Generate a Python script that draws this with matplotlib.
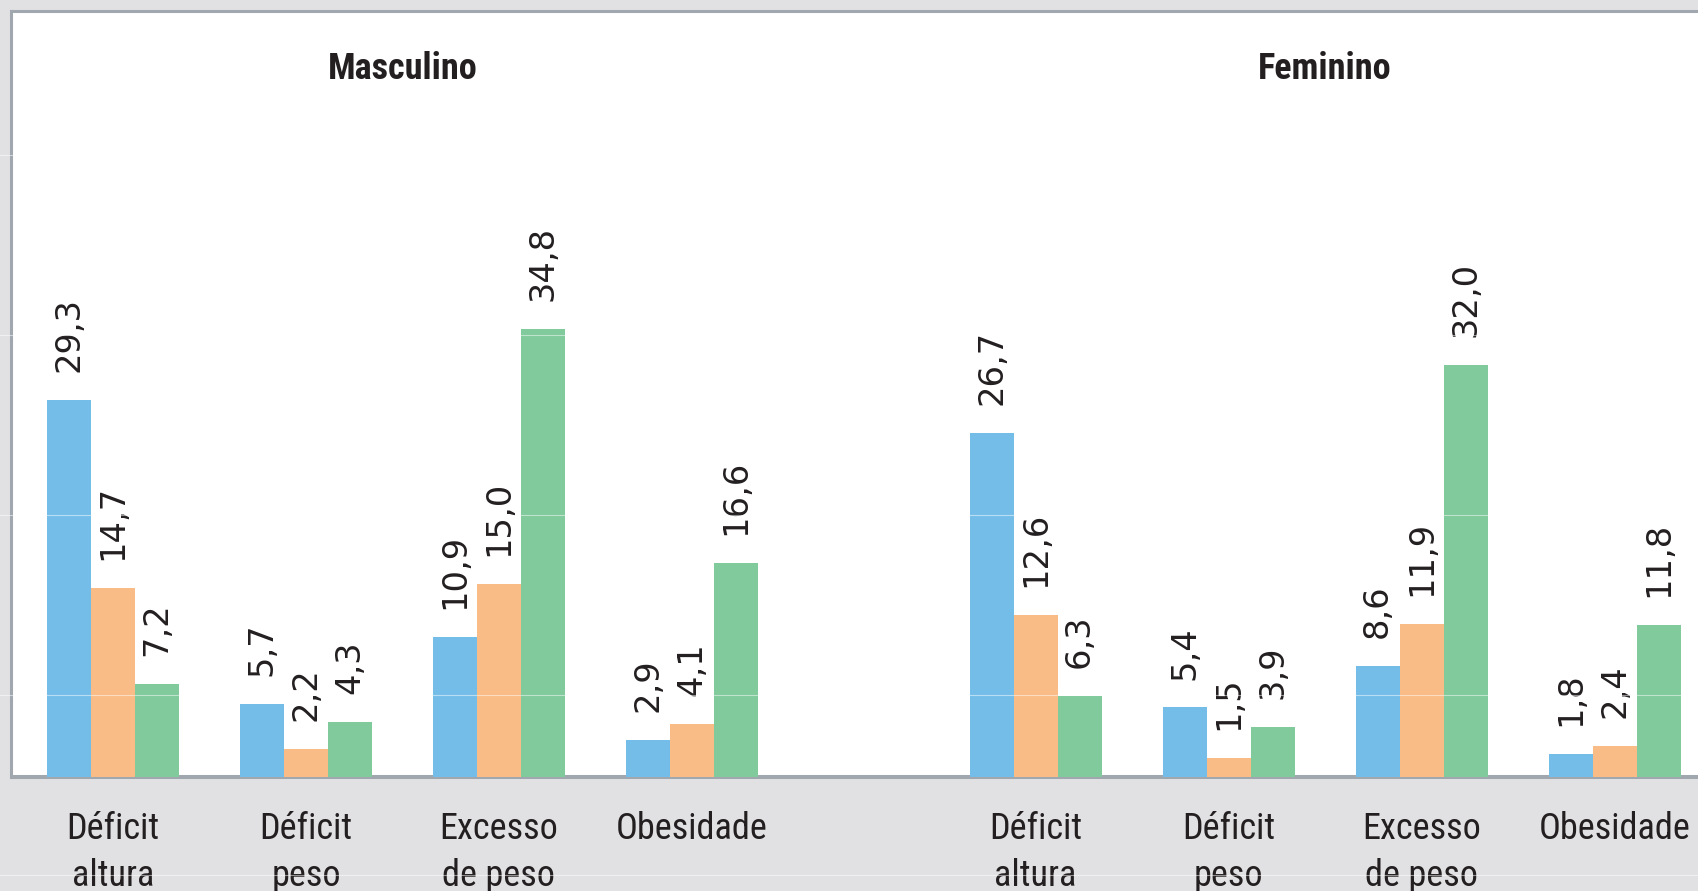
import matplotlib
matplotlib.use("Agg")
import matplotlib.pyplot as plt
from matplotlib.lines import Line2D
import matplotlib.transforms as mtransforms
import numpy as np

# ---- data ----
groups = ["Masculino", "Feminino"]
categories = ["Déficit\naltura", "Déficit\npeso", "Excesso\nde peso", "Obesidade"]
masc_blue = [29.3, 5.7, 10.9, 2.9]
masc_orange = [14.7, 2.2, 15.0, 4.1]
masc_green = [7.2, 4.3, 34.8, 16.6]
fem_blue = [26.7, 5.4, 8.6, 1.8]
fem_orange = [12.6, 1.5, 11.9, 2.4]
fem_green = [6.3, 3.9, 32.0, 11.8]

# ---- style ----
BG = "#e1e1e3"
BORDER = "#a0a7af"
TEXT = "#231f20"
C_BLUE = "#74bde9"
C_ORANGE = "#f9bc86"
C_GREEN = "#80ca9b"
NARROW = ["Roboto Condensed", "Archivo Narrow", "Barlow Condensed", "DejaVu Sans"]
REG = ["DejaVu Sans"]

W, H = 1699, 891
fig = plt.figure(figsize=(W / 100, H / 100), dpi=100, facecolor=BG)
renderer = fig.canvas.get_renderer()


def fit_size(text, family, weight, target_px, base=20.0):
    t = fig.text(0, 0, text, fontsize=base, family=family, fontweight=weight)
    bb = t.get_window_extent(renderer=renderer)
    t.remove()
    return base * target_px / bb.width


fs_title = fit_size("Masculino", NARROW, "bold", 150)
fs_cat = fit_size("Obesidade", NARROW, "normal", 152)
fs_val = fit_size("29,3", REG, "normal", 75)

px_left, px_zero, px_top, px_right = 11.5, 777.0, 10.5, 1760.0
ax = fig.add_axes([px_left / W, 1 - px_zero / H, (px_right - px_left) / W, (px_zero - px_top) / H])
ax.set_facecolor("white")
ax_h = px_zero - px_top

unit = 193.0        # px per category slot
px_per_val = 12.88  # px per value unit
gap = 0.78
ax.set_xlim(-(113 - px_left) / unit, (px_right - 113) / unit)
ax.set_ylim(0, ax_h / px_per_val)

n = len(categories)
centers_m = np.arange(n, dtype=float)
centers_f = np.arange(n, dtype=float) + n + gap
bw = 0.228


def draw(centers, blue, orange, green):
    for off, vals, col in ((-bw, blue, C_BLUE), (0, orange, C_ORANGE), (bw, green, C_GREEN)):
        bars = ax.bar(centers + off, vals, width=bw, color=col, zorder=3, linewidth=0)
        for b, v in zip(bars, vals):
            ax.annotate(f"{v:.1f}".replace(".", ","),
                        (b.get_x() + b.get_width() / 2, v),
                        xytext=(0, 20), textcoords="offset points",
                        rotation=90, ha="center", va="bottom",
                        fontsize=fs_val, family=REG, color=TEXT, zorder=5)


draw(centers_m, masc_blue, masc_orange, masc_green)
draw(centers_f, fem_blue, fem_orange, fem_green)

# spines
for s in ("left", "top"):
    ax.spines[s].set_color(BORDER)
    ax.spines[s].set_linewidth(2.2)
ax.spines["bottom"].set_color(BORDER)
ax.spines["bottom"].set_linewidth(2.9)
ax.spines["right"].set_visible(False)
ax.set_xticks([])
ax.set_yticks([])

trans = mtransforms.blended_transform_factory(ax.transData, ax.transAxes)

# group titles
for name, cs in ((groups[0], centers_m), (groups[1], centers_f)):
    ax.text(cs.mean(), (px_zero - 79) / ax_h, name, transform=trans,
            ha="center", va="baseline", fontsize=fs_title, fontweight="bold",
            family=NARROW, color=TEXT)

# category labels
for cs in (centers_m, centers_f):
    for c, lab in zip(cs, categories):
        ax.text(c, (px_zero - 811) / ax_h, lab, transform=trans,
                ha="center", va="top", fontsize=fs_cat, family=NARROW, color=TEXT,
                linespacing=1.38, clip_on=False)

# faint horizontal guide lines across the whole figure
for ypx in (155, 335, 515, 695, 875):
    fig.add_artist(Line2D([0, 1], [1 - ypx / H, 1 - ypx / H], transform=fig.transFigure,
                          color="white", alpha=0.5, linewidth=0.8, zorder=4))

fig.savefig("out.png", dpi=100, facecolor=BG)
